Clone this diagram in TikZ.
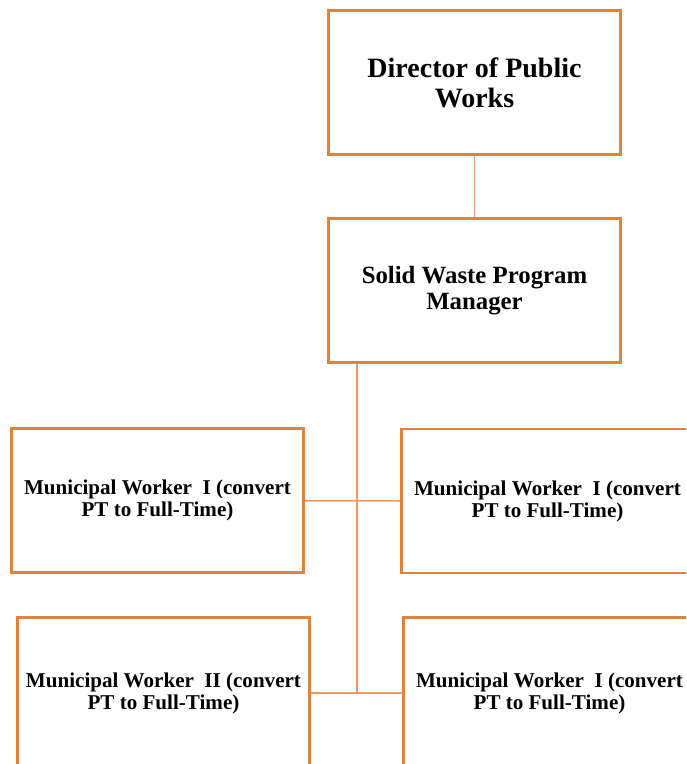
\documentclass[tikz,border=0pt]{standalone}
\usepackage{fontspec}
\setmainfont{Liberation Serif}
\usepackage{xcolor}
\usetikzlibrary{positioning}

\definecolor{boxorange}{RGB}{224,131,62}
\definecolor{lineorange}{RGB}{236,156,100}

\begin{document}
\begin{tikzpicture}[
    x=0.75pt, y=-0.75pt,
    box/.style={rectangle, draw=boxorange, line width=2.2pt, fill=white,
        minimum width=219pt, minimum height=108pt, align=center, font=\bfseries},
    worker/.style={box, font=\bfseries\fontsize{15.8}{16.5}\selectfont},
    link/.style={draw=lineorange, line width=1.4pt}
]
    \clip (0,0) rectangle (686,764);
    \useasboundingbox (0,0) rectangle (686,764);

    \node[box, font=\bfseries\fontsize{21}{22.5}\selectfont] (dir) at (474.5,82.5) {Director of Public\\Works};
    \node[box, font=\bfseries\fontsize{18.6}{19.5}\selectfont] (mgr) at (474.5,290.5) {Solid Waste Program\\Manager};

    % workers, two rows
    \node[worker] (mw1) at (157.5,500.5) {Municipal Worker~ I (convert\\PT to Full-Time)};
    \node[worker] (mw2) at (547.5,501) {Municipal Worker~ I (convert\\PT to Full-Time)};
    \node[worker, minimum height=113pt] (mw3) at (163.5,693) {Municipal Worker~ II (convert\\PT to Full-Time)};
    \node[worker, minimum height=113pt] (mw4) at (549.5,693) {Municipal Worker~ I (convert\\PT to Full-Time)};

    \coordinate (trunk) at ([xshift=22.5pt]mgr.south west);

    \draw[link] (dir) -- (mgr);
    \draw[link] (trunk) -- (trunk |- mw3.east);
    \draw[link] (mw1) -- (mw2);
    \draw[link] (mw3) -- (mw4);
\end{tikzpicture}
\end{document}
